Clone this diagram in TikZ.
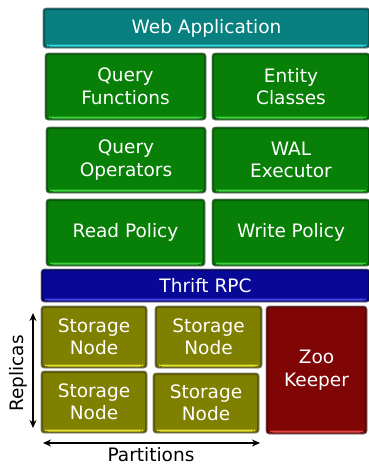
\documentclass[tikz,border=0pt]{standalone}
\usepackage{fontspec}
\setmainfont{DejaVu Sans}
\usetikzlibrary{arrows.meta}
\definecolor{cteal}{RGB}{8,128,128}
\definecolor{cgreen}{RGB}{8,128,8}
\definecolor{cblue}{RGB}{8,8,150}
\definecolor{colive}{RGB}{128,128,0}
\definecolor{cred}{RGB}{128,5,5}
\definecolor{hteal}{RGB}{50,215,215}
\definecolor{hgreen}{RGB}{60,210,60}
\definecolor{hblue}{RGB}{70,70,235}
\definecolor{holive}{RGB}{225,225,50}
\definecolor{hred}{RGB}{230,70,70}
\tikzset{
 lbl/.style={font=\fontsize{18.5}{22}\selectfont, inner sep=0pt},
 gb/.style 2 args={rounded corners=3pt, draw=black!50, line width=0.7pt, fill=#1, text=white,
  align=center, inner sep=0pt, font=\fontsize{18.5}{22.5}\selectfont,
  path picture={
   \draw[#1!45!black, line width=4pt, opacity=0.55]
     (path picture bounding box.south west) rectangle (path picture bounding box.north east);
   \fill[#2]
     ([xshift=4pt,yshift=1.5pt]path picture bounding box.south west) rectangle
     ([xshift=-4pt,yshift=3.5pt]path picture bounding box.south east);
  }},
 arr/.style={{Stealth[length=8pt,width=7pt]}-{Stealth[length=8pt,width=7pt]}, line width=1.3pt},
}
\begin{document}
\begin{tikzpicture}[x=1pt,y=-1pt]
\useasboundingbox (0,0) rectangle (368,464);
\node[gb={cteal}{hteal}, minimum width=327pt, minimum height=40pt] (web) at (206.5,28) {Web Application};
\node[gb={cgreen}{hgreen}, minimum width=161pt, minimum height=67pt] (qf) at (125.5,86.5) {Query\\Functions};
\node[gb={cgreen}{hgreen}, minimum width=158pt, minimum height=67pt] (ec) at (291,86.5) {Entity\\Classes};
\node[gb={cgreen}{hgreen}, minimum width=160pt, minimum height=66pt] (qo) at (126,160) {Query\\Operators};
\node[gb={cgreen}{hgreen}, minimum width=158pt, minimum height=66pt] (wal) at (291,160) {WAL\\Executor};
\node[gb={cgreen}{hgreen}, minimum width=159pt, minimum height=67pt] (rp) at (125.5,232.5) {Read Policy};
\node[gb={cgreen}{hgreen}, minimum width=158pt, minimum height=67pt] (wp) at (291,232.5) {Write Policy};
\node[gb={cblue}{hblue}, minimum width=329pt, minimum height=33pt] (rpc) at (205.5,285.5) {Thrift RPC};
\node[gb={colive}{holive}, minimum width=106pt, minimum height=62pt] (sn1) at (94,337) {Storage\\Node};
\node[gb={colive}{holive}, minimum width=107pt, minimum height=62pt] (sn2) at (208.5,337) {Storage\\Node};
\node[gb={colive}{holive}, minimum width=106pt, minimum height=62pt] (sn3) at (94,402) {Storage\\Node};
\node[gb={colive}{holive}, minimum width=106pt, minimum height=60pt] (sn4) at (206,403) {Storage\\Node};
\node[gb={cred}{hred}, minimum width=101pt, minimum height=128pt] (zk) at (316.5,370) {Zoo\\Keeper};
\coordinate (r1) at (33,313);
\coordinate (r2) at (33,428);
\draw[arr] (r1) -- (r2);
\coordinate (p1) at (43,443);
\coordinate (p2) at (260,443);
\draw[arr] (p1) -- (p2);
\node[lbl, rotate=90, anchor=base] (rep) at (23.5,373.5) {Replicas};
\node[lbl, anchor=base] (part) at (151,461) {Partitions};
\end{tikzpicture}
\end{document}
